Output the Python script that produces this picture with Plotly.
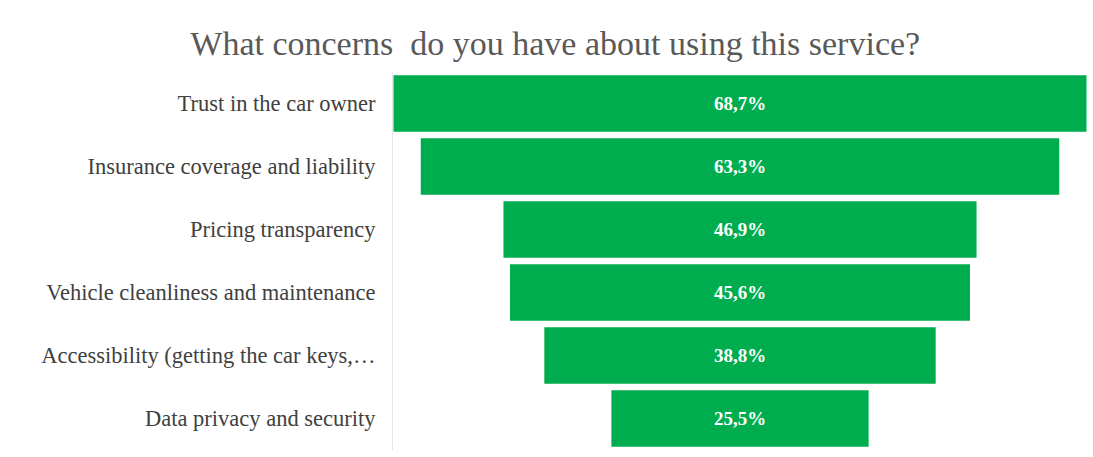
import plotly.graph_objects as go

categories = [
    "Trust in the car owner",
    "Insurance coverage and liability",
    "Pricing transparency",
    "Vehicle cleanliness and maintenance",
    "Accessibility (getting the car keys,…",
    "Data privacy and security",
]
values = [68.7, 63.3, 46.9, 45.6, 38.8, 25.5]

fig = go.Figure(go.Funnel(
    y=categories,
    x=values,
    texttemplate="<b>%{x:.1f}%</b>",
    textposition="inside",
    insidetextanchor="middle",
    textfont=dict(family="Liberation Serif", size=19, color="white"),
    marker=dict(color="#00AD4E", line=dict(width=0)),
    connector=dict(visible=False),
    hoverinfo="skip",
))

fig.update_layout(
    width=1093, height=457,
    margin=dict(l=393, r=6, t=72, b=7),
    paper_bgcolor="white", plot_bgcolor="white",
    separators=",.",
    title=dict(text="What concerns  do you have about using this service?",
               x=0.508, xanchor="center", y=0.905, yanchor="middle",
               font=dict(family="Liberation Serif", size=34, color="#595959")),
    funnelgap=0.1,
    showlegend=False,
    font=dict(family="Liberation Serif"),
)
fig.update_xaxes(visible=False, range=[-34.4, 34.4], fixedrange=True)
fig.update_yaxes(autorange="reversed", showline=True, linecolor="#E6E6E6", linewidth=1,
                 ticks="", ticklabelstandoff=12,
                 tickfont=dict(family="Liberation Serif", size=22.5, color="#404040"),
                 showgrid=False)

fig.write_html("out.html")
